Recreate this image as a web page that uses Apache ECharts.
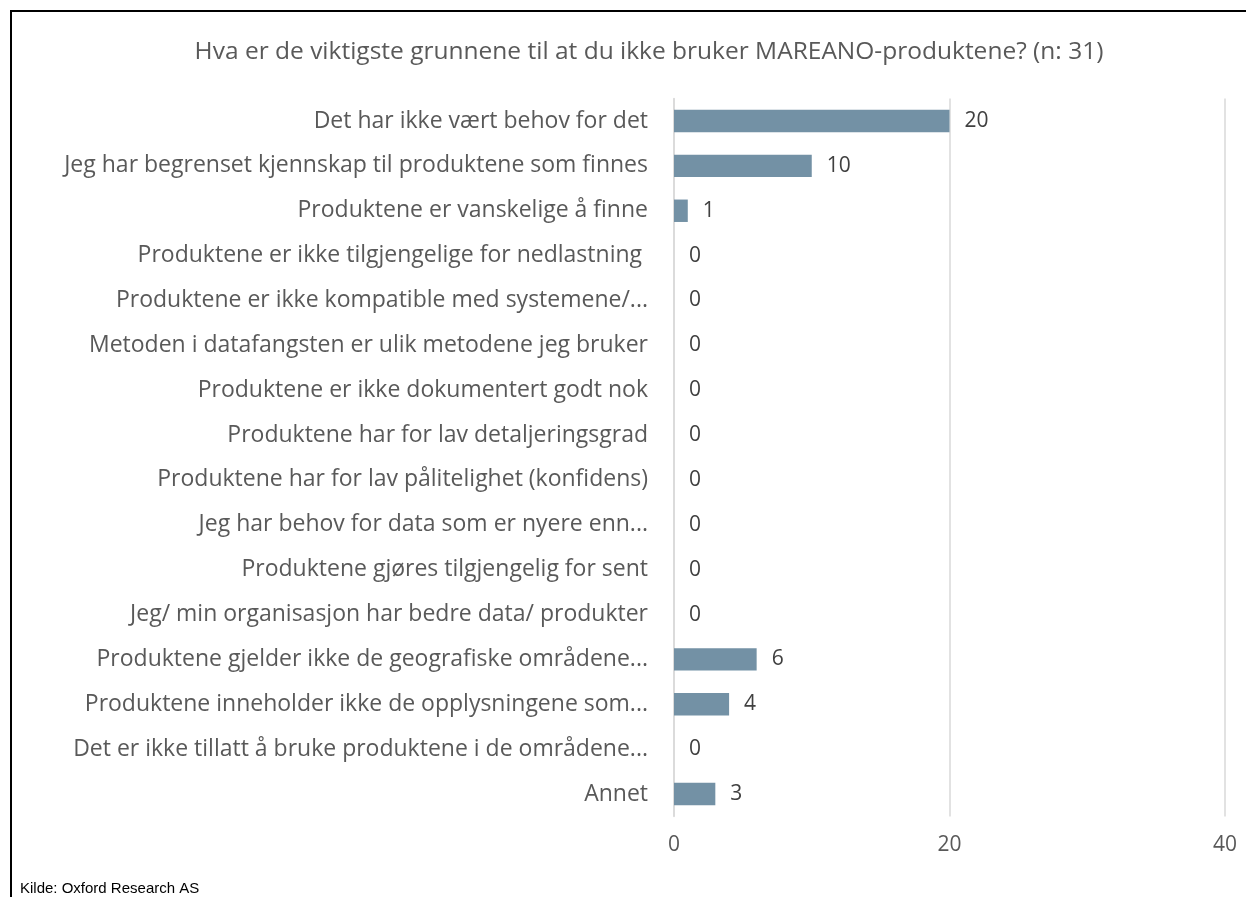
<!DOCTYPE html>
<html>
<head>
<meta charset="utf-8">
<script src="https://cdn.jsdelivr.net/npm/echarts@6/dist/echarts.min.js"></script>
<style>
  html, body { margin: 0; padding: 0; background: #fff; }
  #chart { width: 1246px; height: 897px; }
</style>
</head>
<body>
<div id="chart"></div>
<script>
// svar (n: 31)
const categories = [
  'Det har ikke vært behov for det',
  'Jeg har begrenset kjennskap til produktene som finnes',
  'Produktene er vanskelige å finne',
  'Produktene er ikke tilgjengelige for nedlastning ',
  'Produktene er ikke kompatible med systemene/...',
  'Metoden i datafangsten er ulik metodene jeg bruker',
  'Produktene er ikke dokumentert godt nok',
  'Produktene har for lav detaljeringsgrad',
  'Produktene har for lav pålitelighet (konfidens)',
  'Jeg har behov for data som er nyere enn...',
  'Produktene gjøres tilgjengelig for sent',
  'Jeg/ min organisasjon har bedre data/ produkter',
  'Produktene gjelder ikke de geografiske områdene...',
  'Produktene inneholder ikke de opplysningene som...',
  'Det er ikke tillatt å bruke produktene i de områdene...',
  'Annet'
];
const antall = [20, 10, 1, 0, 0, 0, 0, 0, 0, 0, 0, 0, 6, 4, 0, 3];
const xTicks = { min: 0, max: 40, interval: 20 };

const font = '"Open Sans", Lato, sans-serif';
const chart = echarts.init(document.getElementById('chart'));

chart.setOption({
  animation: false,
  title: {
    text: 'Hva er de viktigste grunnene til at du ikke bruker MAREANO-produktene? (n: 31)',
    left: 644,
    textAlign: 'center',
    top: 35,
    textStyle: { fontFamily: font, fontSize: 24.5, fontWeight: 'normal', color: '#595959' }
  },
  grid: { left: 674, right: 21, top: 98.6, bottom: 80.6, containLabel: false },
  xAxis: {
    type: 'value',
    min: xTicks.min,
    max: xTicks.max,
    interval: xTicks.interval,
    axisLine: { show: false },
    axisTick: { show: false },
    splitLine: { lineStyle: { color: '#d9d9d9', width: 1.5 } },
    axisLabel: { fontFamily: font, fontSize: 21, color: '#595959', margin: 18 }
  },
  yAxis: {
    type: 'category',
    inverse: true,
    data: categories,
    axisLine: { lineStyle: { color: '#d9d9d9', width: 1.5 } },
    axisTick: { show: false },
    axisLabel: { fontFamily: font, fontSize: 23, color: '#595959', margin: 26 }
  },
  series: [{
    type: 'bar',
    data: antall,
    barWidth: '50%',
    itemStyle: { color: '#7391a5' },
    label: {
      show: true,
      position: 'right',
      distance: 15,
      fontFamily: font,
      fontSize: 21,
      color: '#404040'
    }
  }],
  graphic: [
    { type: 'line', shape: { x1: 10, y1: 11, x2: 1246, y2: 11 }, style: { stroke: '#000', lineWidth: 2 } },
    { type: 'line', shape: { x1: 11, y1: 10, x2: 11, y2: 897 }, style: { stroke: '#000', lineWidth: 2 } },
    {
      type: 'text', left: 20, top: 881,
      style: { text: 'Kilde: Oxford Research AS', font: '15px "Liberation Sans Narrow", "Liberation Sans", Arial, sans-serif', fill: '#000' }
    }
  ]
});
</script>
</body>
</html>
